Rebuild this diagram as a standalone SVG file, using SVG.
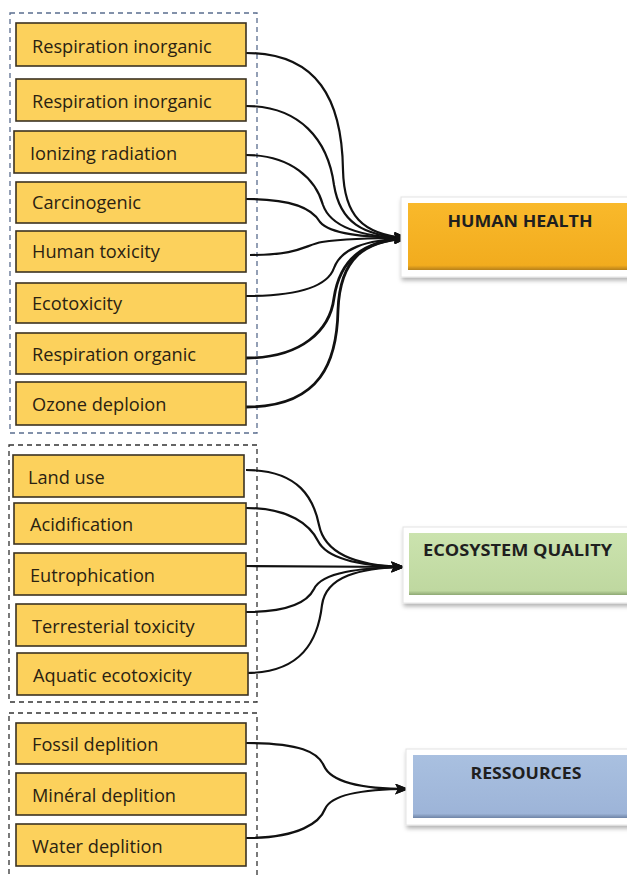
<svg xmlns="http://www.w3.org/2000/svg" width="627" height="875" viewBox="0 0 627 875">
<style>
.grp{fill:none;stroke-width:1.3;stroke-dasharray:5,4}
.item{fill:#FCD15C;stroke:#3b3222;stroke-width:1.6}
.lbl{font-family:"Open Sans","Noto Sans",sans-serif;font-size:18.2px;fill:#2a2212}
.hdr{font-family:"Open Sans","Noto Sans",sans-serif;font-size:16px;font-weight:bold;fill:#1f1f1f}
.frame{fill:#ffffff;stroke:#e4e4e4;stroke-width:1}
.con{fill:none;stroke:#111;stroke-width:2.2}
.thick{stroke-width:2.8}
</style>
<defs>
<marker id="arr" viewBox="0 0 14 11" refX="13" refY="5.5" markerWidth="14" markerHeight="11" markerUnits="userSpaceOnUse" orient="auto">
<path d="M0,0 L14,5.5 L0,11 L3,5.5 Z" fill="#111"/>
</marker>
<linearGradient id="gOr" x1="0" y1="0" x2="0" y2="1">
<stop offset="0" stop-color="#F9B92B"/><stop offset="0.93" stop-color="#F2AC1E"/><stop offset="1" stop-color="#B7801A"/>
</linearGradient>
<linearGradient id="gGr" x1="0" y1="0" x2="0" y2="1">
<stop offset="0" stop-color="#CBE3AE"/><stop offset="0.93" stop-color="#BFD8A0"/><stop offset="1" stop-color="#8EA874"/>
</linearGradient>
<linearGradient id="gBl" x1="0" y1="0" x2="0" y2="1">
<stop offset="0" stop-color="#A9C0E0"/><stop offset="0.93" stop-color="#9DB4D8"/><stop offset="1" stop-color="#6F84A6"/>
</linearGradient>
<filter id="sh" x="-5%" y="-10%" width="115%" height="130%">
<feDropShadow dx="1" dy="3" stdDeviation="2" flood-color="#000" flood-opacity="0.3"/>
</filter>
</defs>
<rect width="627" height="875" fill="#ffffff"/>

<rect class="grp" x="10" y="13" width="247" height="420" stroke="#5a6d8f"/>
<rect class="grp" x="9" y="445" width="248" height="257" stroke="#333"/>
<rect class="grp" x="9" y="713" width="248" height="170" stroke="#333"/>

<g id="connectors">
<path class="con" marker-end="url(#arr)" d="M246,53 C318,53 342,100 343,170 C344,215 362,235 407,238"/>
<path class="con" marker-end="url(#arr)" d="M246,106 C300,106 328,140 334,185 C340,222 362,236 407,238"/>
<path class="con" marker-end="url(#arr)" d="M246,155 C292,155 316,180 323,205 C331,228 362,237 407,238"/>
<path class="con" marker-end="url(#arr)" d="M246,199 C292,199 312,208 320,222 C330,234 362,237 407,238"/>
<path class="con" marker-end="url(#arr)" d="M250,255 C300,255 305,245 322,242 C342,239 372,238 407,238"/>
<path class="con" marker-end="url(#arr)" d="M246,296 C302,296 328,285 334,268 C341,249 364,240 407,238"/>
<path class="con thick" marker-end="url(#arr)" d="M246,358 C302,358 330,330 334,298 C340,258 364,241 407,238"/>
<path class="con thick" marker-end="url(#arr)" d="M246,407 C322,407 337,360 338,310 C340,258 364,241 407,238"/>

<path class="con" marker-end="url(#arr)" d="M246,470 C300,470 314,500 319,525 C325,555 360,566 404,567"/>
<path class="con" marker-end="url(#arr)" d="M246,508 C290,508 310,525 318,541 C327,559 360,566 404,567"/>
<path class="con" marker-end="url(#arr)" d="M246,566 L404,567"/>
<path class="con" marker-end="url(#arr)" d="M246,612 C290,612 308,601 314,589 C322,572 360,568 404,567"/>
<path class="con" marker-end="url(#arr)" d="M246,673 C302,673 318,640 322,605 C326,576 360,568 404,567"/>

<path class="con" marker-end="url(#arr)" d="M246,743 C300,743 318,752 324,766 C332,784 370,789 408,789"/>
<path class="con" marker-end="url(#arr)" d="M246,838 C300,838 320,822 325,809 C332,793 370,789 408,789"/>
</g>

<g id="n-resp-inorg-1"><rect class="item" x="16" y="23" width="230" height="43"/><text class="lbl" x="32" y="53">Respiration inorganic</text></g>
<g id="n-resp-inorg-2"><rect class="item" x="16" y="79" width="230" height="42"/><text class="lbl" x="32" y="108">Respiration inorganic</text></g>
<g id="n-ionizing"><rect class="item" x="14" y="131" width="232" height="42"/><text class="lbl" x="30" y="160">Ionizing radiation</text></g>
<g id="n-carcino"><rect class="item" x="16" y="182" width="230" height="41"/><text class="lbl" x="32" y="209">Carcinogenic</text></g>
<g id="n-humantox"><rect class="item" x="16" y="231" width="230" height="41"/><text class="lbl" x="32" y="258">Human toxicity</text></g>
<g id="n-ecotox"><rect class="item" x="16" y="283" width="230" height="40"/><text class="lbl" x="32" y="310">Ecotoxicity</text></g>
<g id="n-resp-org"><rect class="item" x="16" y="333" width="230" height="41"/><text class="lbl" x="32" y="361">Respiration organic</text></g>
<g id="n-ozone"><rect class="item" x="16" y="382" width="230" height="43"/><text class="lbl" x="32" y="411">Ozone deploion</text></g>

<g id="n-landuse"><rect class="item" x="13" y="455" width="231" height="42"/><text class="lbl" x="28" y="484">Land use</text></g>
<g id="n-acid"><rect class="item" x="14" y="503" width="232" height="41"/><text class="lbl" x="30" y="531">Acidification</text></g>
<g id="n-eutro"><rect class="item" x="14" y="553" width="232" height="42"/><text class="lbl" x="30" y="582">Eutrophication</text></g>
<g id="n-terres"><rect class="item" x="16" y="604" width="230" height="42"/><text class="lbl" x="32" y="633">Terresterial toxicity</text></g>
<g id="n-aquatic"><rect class="item" x="17" y="653" width="231" height="42"/><text class="lbl" x="33" y="682">Aquatic ecotoxicity</text></g>

<g id="n-fossil"><rect class="item" x="16" y="723" width="230" height="41"/><text class="lbl" x="32" y="751">Fossil deplition</text></g>
<g id="n-mineral"><rect class="item" x="16" y="773" width="230" height="42"/><text class="lbl" x="32" y="802">Minéral deplition</text></g>
<g id="n-water"><rect class="item" x="16" y="824" width="230" height="42"/><text class="lbl" x="32" y="853">Water deplition</text></g>

<g id="n-human-health">
<rect class="frame" x="401" y="197" width="240" height="80" filter="url(#sh)"/>
<rect x="408" y="203" width="230" height="67" fill="url(#gOr)"/>
<text class="hdr" x="520" y="227" text-anchor="middle" textLength="145" lengthAdjust="spacingAndGlyphs">HUMAN HEALTH</text>
</g>
<g id="n-ecosystem">
<rect class="frame" x="403" y="527" width="240" height="76" filter="url(#sh)"/>
<rect x="409" y="533" width="230" height="62" fill="url(#gGr)"/>
<text class="hdr" x="423" y="556" textLength="189" lengthAdjust="spacingAndGlyphs">ECOSYSTEM  QUALITY</text>
</g>
<g id="n-ressources">
<rect class="frame" x="406" y="749" width="240" height="76" filter="url(#sh)"/>
<rect x="413" y="755" width="230" height="63" fill="url(#gBl)"/>
<text class="hdr" x="526" y="779" text-anchor="middle" textLength="111" lengthAdjust="spacingAndGlyphs">RESSOURCES</text>
</g>
</svg>
